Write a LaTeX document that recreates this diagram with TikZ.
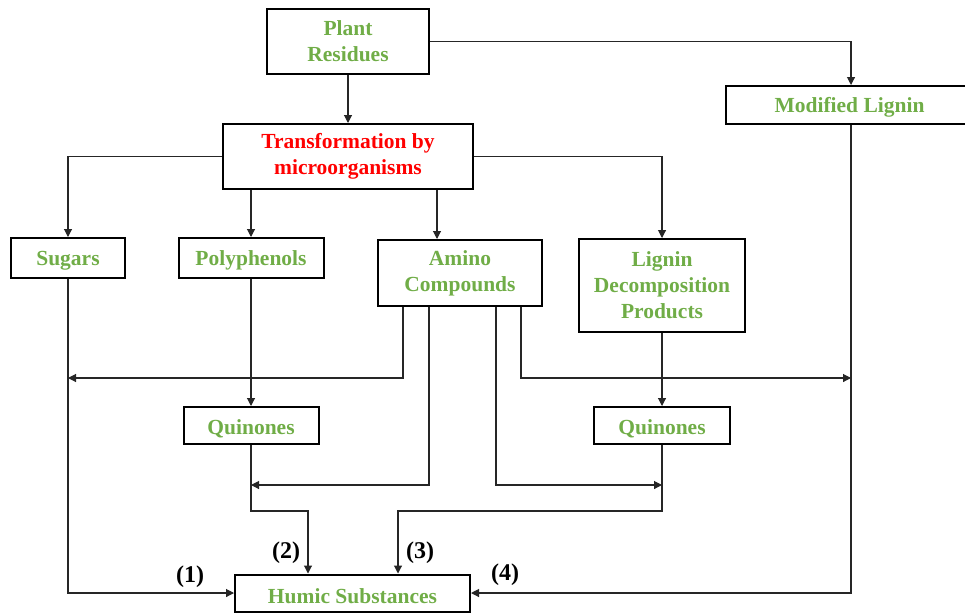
\documentclass[tikz,border=0pt]{standalone}
\usepackage{fontspec}
\setmainfont{Liberation Serif}
\usetikzlibrary{arrows.meta}
\definecolor{lgreen}{RGB}{112,173,71}
\begin{document}
\begin{tikzpicture}[x=1pt,y=-1pt,
  box/.style={draw=black,line width=2pt,inner sep=0pt,align=center,
    font=\fontsize{21.5}{26}\selectfont\bfseries,text=lgreen,
    execute at begin node={\rule{0pt}{20.5pt}}},
  arr/.style={draw=black!85,line width=1.1pt,-{Triangle[length=8pt,width=8pt]}},
  lab/.style={font=\fontsize{24}{28}\selectfont\bfseries,text=black}]
\useasboundingbox (0,0) rectangle (965,613);
\node[box,minimum width=162,minimum height=65] (plant) at (348,41.5) {Plant\\Residues};
\node[box,minimum width=250,minimum height=65,text=red] (trans) at (348,156.5) {Transformation by\\microorganisms};
\node[box,minimum width=247,minimum height=38] (modlig) at (849.5,105) {Modified Lignin};
\node[box,minimum width=114,minimum height=40] (sugars) at (68,258) {Sugars};
\node[box,minimum width=145,minimum height=40] (poly) at (251,258) {Polyphenols};
\node[box,minimum width=164,minimum height=66] (amino) at (460,273) {Amino\\Compounds};
\node[box,minimum width=166,minimum height=93] (lignin) at (662,285.5) {Lignin\\Decomposition\\Products};
\node[box,minimum width=135,minimum height=37] (q1) at (251,425.5) {Quinones};
\node[box,minimum width=136,minimum height=37] (q2) at (662,425.5) {Quinones};
\node[box,minimum width=235,minimum height=37] (humic) at (352.5,593) {Humic Substances};
\coordinate (yA) at (0,378);
\coordinate (yB) at (0,485);
\coordinate (yC) at (0,511);
% top
\draw[arr] (plant) -- (trans);
\draw[arr] (plant.east) -| ([xshift=1.5]modlig.north);
\draw[arr] (trans.west) -| (sugars.north);
\draw[arr] (trans.south -| poly.north) -- (poly.north);
\draw[arr] ([xshift=-23]amino.north |- trans.south) -- ([xshift=-23]amino.north);
\draw[arr] (trans.east) -| (lignin.north);
% middle
\draw[arr] (poly.south) -- (q1.north);
\draw[arr] (lignin.south) -- (q2.north);
\draw[arr] ([xshift=-57]amino.south) |- (sugars.south |- yA);
\draw[arr] ([xshift=-31]amino.south) |- (q1.south |- yB);
\draw[arr] ([xshift=36]amino.south) |- (q2.south |- yB);
\draw[arr] ([xshift=61]amino.south) |- ([xshift=1.5]modlig.south |- yA);
% bottom
\draw[arr] (sugars.south) |- (humic.west);
\draw[arr] ([xshift=1.5]modlig.south) |- (humic.east);
\draw[arr] (q1.south) -- (q1.south |- yC) -| ([xshift=-44.5]humic.north);
\draw[arr] (q2.south) -- (q2.south |- yC) -| ([xshift=45.5]humic.north);
% labels
\node[lab] (l1) at (190,577) {(1)};
\node[lab] (l2) at (286,553) {(2)};
\node[lab] (l3) at (420,553) {(3)};
\node[lab] (l4) at (505,575) {(4)};
\end{tikzpicture}
\end{document}
